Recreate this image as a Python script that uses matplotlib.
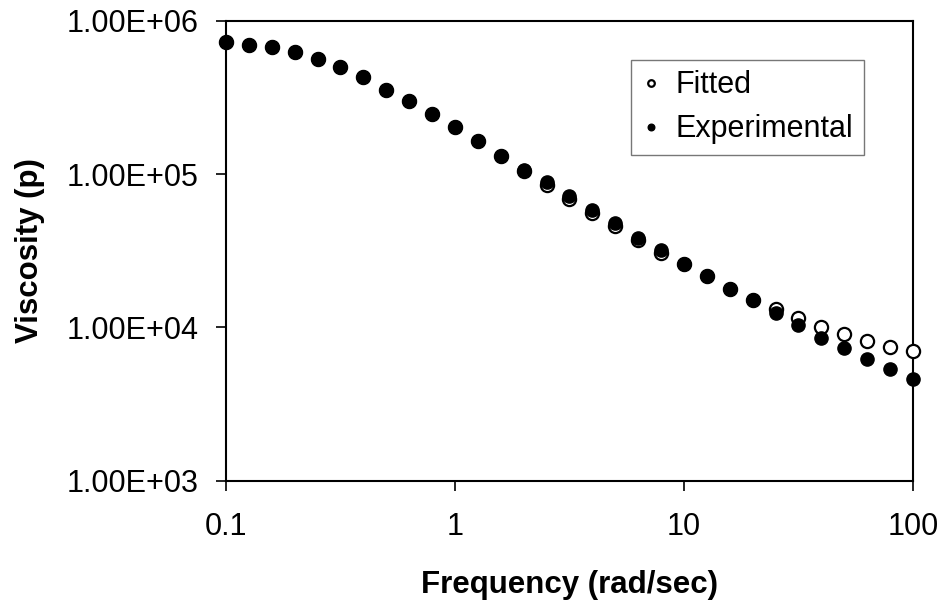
import numpy as np
import matplotlib
matplotlib.use("Agg")
import matplotlib.pyplot as plt
from matplotlib.ticker import FixedLocator, FuncFormatter, NullLocator

plt.rcParams['font.family'] = ['Liberation Sans', 'DejaVu Sans']

# Angular frequency (rad/sec), 10 points per decade from 0.1 to 100
frequency = [0.1, 0.126, 0.158, 0.2, 0.251, 0.316, 0.398, 0.501, 0.631, 0.794,
             1.0, 1.26, 1.58, 2.0, 2.51, 3.16, 3.98, 5.01, 6.31, 7.94,
             10.0, 12.6, 15.8, 20.0, 25.1, 31.6, 39.8, 50.1, 63.1, 79.4, 100.0]

# Measured complex viscosity (poise)
experimental = [7.23e5, 6.93e5, 6.70e5, 6.22e5, 5.65e5, 4.96e5, 4.27e5, 3.52e5, 2.99e5, 2.45e5,
                2.02e5, 1.63e5, 1.32e5, 1.06e5, 8.90e4, 7.18e4, 5.82e4, 4.77e4, 3.84e4, 3.19e4,
                2.58e4, 2.16e4, 1.77e4, 1.50e4, 1.245e4, 1.035e4, 8.55e3, 7.36e3, 6.18e3, 5.32e3, 4.58e3]

# Model-fitted viscosity (poise)
fitted = [7.23e5, 6.93e5, 6.70e5, 6.22e5, 5.65e5, 4.96e5, 4.27e5, 3.52e5, 2.99e5, 2.45e5,
          2.02e5, 1.63e5, 1.32e5, 1.05e5, 8.50e4, 6.90e4, 5.60e4, 4.58e4, 3.69e4, 3.06e4,
          2.58e4, 2.16e4, 1.77e4, 1.50e4, 1.31e4, 1.15e4, 1.01e4, 9.00e3, 8.15e3, 7.47e3, 6.97e3]

x_ticks = [0.1, 1, 10, 100]
x_tick_labels = ["0.1", "1", "10", "100"]
y_ticks = [1e3, 1e4, 1e5, 1e6]

fig = plt.figure(figsize=(9.47, 6.07), dpi=100)
ax = fig.add_axes([0.2387, 0.2081, 0.9641 - 0.2387, 0.9659 - 0.2081])

ax.plot(frequency, fitted, linestyle='none', marker='o', markersize=9.5,
        markerfacecolor='white', markeredgecolor='black', markeredgewidth=1.6,
        label='Fitted', zorder=3, clip_on=False)
ax.plot(frequency, experimental, linestyle='none', marker='o', markersize=9.5,
        markerfacecolor='black', markeredgecolor='black',
        label='Experimental', zorder=4, clip_on=False)

ax.set_xscale('log')
ax.set_yscale('log')
ax.set_xlim(0.1, 100)
ax.set_ylim(1e3, 1e6)

ax.xaxis.set_major_locator(FixedLocator(x_ticks))
ax.xaxis.set_major_formatter(FuncFormatter(lambda v, p: x_tick_labels[x_ticks.index(v)] if v in x_ticks else ""))
ax.xaxis.set_minor_locator(NullLocator())
ax.yaxis.set_major_locator(FixedLocator(y_ticks))
ax.yaxis.set_major_formatter(FuncFormatter(lambda v, p: "%.2E" % v))
ax.yaxis.set_minor_locator(NullLocator())

ax.tick_params(axis='y', which='major', direction='out', length=7.5, width=1.2,
               labelsize=22, pad=12)
ax.tick_params(axis='x', which='major', direction='out', length=7.5, width=1.2,
               labelsize=22, pad=15)
for s in ax.spines.values():
    s.set_linewidth(1.5)

ax.set_xlabel('Frequency (rad/sec)', fontsize=22.5, fontweight='bold', labelpad=20)
ax.set_ylabel('Viscosity (p)', fontsize=22.5, fontweight='bold', labelpad=16)

leg = ax.legend(loc='upper left', bbox_to_anchor=(0.59, 0.915), fontsize=22,
                frameon=True, fancybox=False, markerscale=0.5,
                handlelength=0.6, handletextpad=0.5, borderpad=0.35,
                labelspacing=0.45, borderaxespad=0)
leg.get_frame().set_edgecolor('#555555')
leg.get_frame().set_linewidth(1.0)

fig.savefig('out.png', dpi=100)
